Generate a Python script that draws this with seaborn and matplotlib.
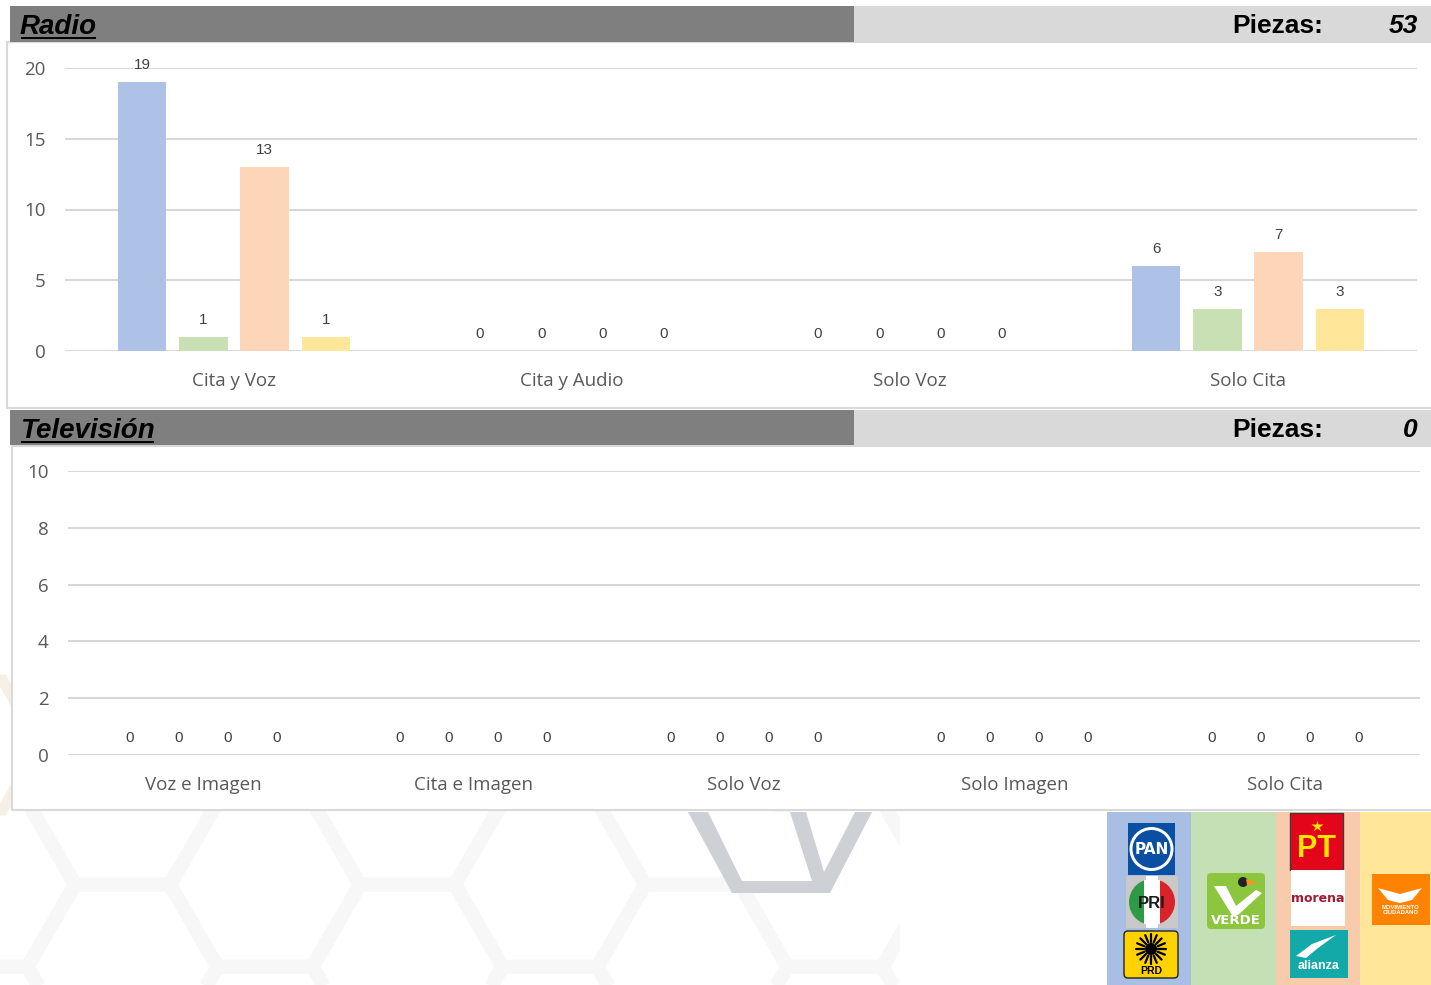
import numpy as np
import pandas as pd
import matplotlib
matplotlib.use("Agg")
import matplotlib.pyplot as plt
import seaborn as sns
from matplotlib.patches import Rectangle, Polygon, Circle, FancyBboxPatch, RegularPolygon

# ---- data -------------------------------------------------------------
series = ["PAN-PRI-PRD", "PVEM", "PT-MORENA-PANAL", "MC"]
series_colors = ["#AEC1E6", "#C8E0B4", "#FDD5B8", "#FFE699"]

radio_categories = ["Cita y Voz", "Cita y Audio", "Solo Voz", "Solo Cita"]
radio_pan_pri_prd = [19, 0, 0, 6]
radio_pvem = [1, 0, 0, 3]
radio_pt_morena_panal = [13, 0, 0, 7]
radio_mc = [1, 0, 0, 3]
radio_ticks = [0, 5, 10, 15, 20]

tv_categories = ["Voz e Imagen", "Cita e Imagen", "Solo Voz", "Solo Imagen", "Solo Cita"]
tv_pan_pri_prd = [0, 0, 0, 0, 0]
tv_pvem = [0, 0, 0, 0, 0]
tv_pt_morena_panal = [0, 0, 0, 0, 0]
tv_mc = [0, 0, 0, 0, 0]
tv_ticks = [0, 2, 4, 6, 8, 10]


def long_frame(categories, columns):
    rows = []
    for name, values in zip(series, columns):
        for cat, v in zip(categories, values):
            rows.append({"categoria": cat, "serie": name, "piezas": v})
    return pd.DataFrame(rows)


radio_df = long_frame(radio_categories,
                      [radio_pan_pri_prd, radio_pvem, radio_pt_morena_panal, radio_mc])
tv_df = long_frame(tv_categories,
                   [tv_pan_pri_prd, tv_pvem, tv_pt_morena_panal, tv_mc])

# ---- figure -----------------------------------------------------------
sns.set_theme(style="white")
plt.rcParams["font.family"] = ["Open Sans", "DejaVu Sans"]

W, H = 1431, 985
fig = plt.figure(figsize=(W / 100, H / 100), dpi=100)
fig.patch.set_facecolor("white")

bg = fig.add_axes([0, 0, 1, 1], zorder=0)
bg.set_xlim(0, W)
bg.set_ylim(H, 0)
bg.axis("off")


def px_rect(x0, y0, x1, y1):
    return [x0 / W, 1 - y1 / H, (x1 - x0) / W, (y1 - y0) / H]


# faint hexagon watermark behind the panels
clip = Rectangle((0, 810), 900, 175, transform=bg.transData, fill=False)
R = 95
for i in range(-1, 9):
    for j in range(-1, 3):
        cx = -20 + i * 1.5 * R
        cy = 720 + j * np.sqrt(3) * R + (i % 2) * np.sqrt(3) * R / 2
        hexa = RegularPolygon((cx, cy), 6, radius=R, orientation=np.pi / 6,
                              fill=False, ec="#F7F7F7", lw=10, zorder=0.2)
        bg.add_patch(hexa)
        hexa.set_clip_path(clip)
bg.add_patch(RegularPolygon((-35, 745), 6, radius=75, orientation=np.pi / 6,
                            fill=False, ec="#F6EFE3", lw=8, zorder=0.2))

# grey hexagon fragment under the television panel
bg.add_patch(Polygon([(688, 812), (732, 893), (830, 893), (872, 812)],
                     closed=True, fc="#CDD0D5", ec="none", zorder=0.3))
bg.add_patch(Polygon([(708, 812), (742, 881), (812, 881), (790, 812)],
                     closed=True, fc="white", ec="none", zorder=0.31))
bg.add_patch(Polygon([(806, 812), (824, 872), (855, 812)],
                     closed=True, fc="white", ec="none", zorder=0.31))

# panels
bg.add_patch(Rectangle((7, 42), 1430, 366, fc="white", ec="#D9D9D9", lw=1.5, zorder=1))
bg.add_patch(Rectangle((12, 446), 1425, 364, fc="white", ec="#D9D9D9", lw=1.5, zorder=1))

# section headers
for top, bottom in [(6, 42), (410, 445)]:
    bg.add_patch(Rectangle((10, top), 844, bottom - top, fc="#7F7F7F", ec="none", zorder=2))
    bg.add_patch(Rectangle((854, top), W - 854, bottom - top, fc="#D9D9D9", ec="none", zorder=2))

head_font = dict(family="Liberation Sans", fontweight="bold", color="black", zorder=3)
t_radio = bg.text(20, 34, "Radio", fontsize=20, style="italic", va="baseline", **head_font)
t_tv = bg.text(20, 438, "Televisión", fontsize=20, style="italic", va="baseline", **head_font)

radio_total = int(sum(radio_pan_pri_prd) + sum(radio_pvem) + sum(radio_pt_morena_panal) + sum(radio_mc))
tv_total = int(sum(tv_pan_pri_prd) + sum(tv_pvem) + sum(tv_pt_morena_panal) + sum(tv_mc))
for base, total in [(33, radio_total), (437, tv_total)]:
    bg.text(1323, base, "Piezas:", fontsize=19, ha="right", va="baseline", **head_font)
    bg.text(1418, base, f"{total}", fontsize=19, style="italic", ha="right", va="baseline", **head_font)


# ---- charts -----------------------------------------------------------
def draw_chart(ax, df, categories, ticks):
    sns.barplot(data=df, x="categoria", y="piezas", hue="serie",
                order=categories, hue_order=series, palette=series_colors,
                width=0.725, gap=0.21, saturation=1, errorbar=None,
                linewidth=0, legend=False, ax=ax)
    ax.patch.set_alpha(0)
    ax.set_ylim(ticks[0], ticks[-1])
    ax.set_yticks(ticks)
    ax.set_xlabel("")
    ax.set_ylabel("")
    ax.yaxis.grid(True, color="#D6D6D6", lw=1.4)
    ax.xaxis.grid(False)
    ax.set_axisbelow(True)
    for s in ax.spines.values():
        s.set_visible(False)
    ax.tick_params(axis="y", length=0, pad=14, labelsize=13.5, labelcolor="#595959")
    ax.tick_params(axis="x", length=0, pad=15, labelsize=13.5, labelcolor="#595959")
    for cont in ax.containers:
        labels = ax.bar_label(cont, fmt="{:.0f}", padding=7, fontsize=11,
                              color="#404040", family="Liberation Sans")
        for lb in labels:
            lb.set_clip_on(False)


ax_r = fig.add_axes(px_rect(65, 68, 1417, 351), zorder=2)
draw_chart(ax_r, radio_df, radio_categories, radio_ticks)

ax_t = fig.add_axes(px_rect(68, 471, 1420, 755), zorder=2)
draw_chart(ax_t, tv_df, tv_categories, tv_ticks)

# ---- party emblems strip ----------------------------------------------
strip = [(1107, 84, "#A9BEE3"), (1191, 85, "#C5E0B4"), (1276, 84, "#F8CBAD"), (1360, 71, "#FFE699")]
for x0, w, c in strip:
    bg.add_patch(Rectangle((x0, 812), w, H - 812, fc=c, ec="none", zorder=1))

lz = 3
# PAN
bg.add_patch(Rectangle((1128, 823), 47, 52, fc="#0B4FA2", ec="none", zorder=lz))
bg.add_patch(Circle((1151.5, 849), 22, fc="white", ec="none", zorder=lz))
bg.add_patch(Circle((1151.5, 849), 19, fc="#0B4FA2", ec="none", zorder=lz))
bg.text(1151.5, 850, "PAN", fontsize=11, fontweight="bold", color="white", ha="center",
        va="center", family="Liberation Sans Narrow", zorder=lz + 1)
# PRI
bg.add_patch(Rectangle((1126, 876), 52, 52, fc="#C9C9C9", ec="none", zorder=lz))
pri_circle = Circle((1152, 902), 23, transform=bg.transData)
for x0, c in [(1126, "#2E9A48"), (1144, "white"), (1160, "#D8232A")]:
    band = Rectangle((x0, 876), 18, 52, fc=c, ec="none", zorder=lz)
    bg.add_patch(band)
    band.set_clip_path(pri_circle)
bg.add_patch(Rectangle((1146, 876), 12, 52, fc="white", ec="none", zorder=lz))
bg.text(1152, 903, "PRI", fontsize=12, fontweight="bold", color="#1A1A1A", ha="center",
        va="center", family="Liberation Sans", zorder=lz + 1)
# PRD
bg.add_patch(FancyBboxPatch((1124, 931), 54, 47, boxstyle="round,pad=0,rounding_size=4",
                            fc="#FFD200", ec="#222222", lw=1, zorder=lz))
for a in np.linspace(0, 2 * np.pi, 16, endpoint=False):
    bg.plot([1151 + 7 * np.cos(a), 1151 + 15 * np.cos(a)],
            [949 + 7 * np.sin(a), 949 + 15 * np.sin(a)], color="black", lw=1.6, zorder=lz + 1)
bg.add_patch(Circle((1151, 949), 6, fc="black", ec="none", zorder=lz + 1))
bg.text(1151, 971, "PRD", fontsize=7.5, fontweight="bold", color="black", ha="center",
        va="center", family="Liberation Sans", zorder=lz + 1)
# VERDE
bg.add_patch(FancyBboxPatch((1207, 873), 58, 56, boxstyle="round,pad=0,rounding_size=4",
                            fc="#8CC63F", ec="none", zorder=lz))
bg.add_patch(Polygon([(1214, 886), (1226, 886), (1236, 906), (1256, 890), (1262, 893),
                      (1238, 915), (1232, 915)], closed=True, fc="white", ec="none", zorder=lz + 1))
bg.add_patch(Circle((1243, 882), 5, fc="#222222", ec="none", zorder=lz + 1))
bg.add_patch(Polygon([(1246, 879), (1258, 883), (1247, 885)], closed=True,
                     fc="#F7931E", ec="none", zorder=lz + 1))
bg.text(1236, 920, "VERDE", fontsize=9.5, fontweight="bold", color="white", ha="center",
        va="center", family="Liberation Sans Narrow", zorder=lz + 1)
# PT
bg.add_patch(Rectangle((1290, 813), 53, 57, fc="#E3061B", ec="#3A3A3A", lw=1, zorder=lz))
bg.text(1316.5, 849, "PT", fontsize=22, fontweight="bold", color="#FFE500", ha="center",
        va="center", family="Liberation Sans", zorder=lz + 1)
bg.plot([1316.5], [826], marker="*", ms=9, color="#FFE500", mec="none", zorder=lz + 1)
# morena
bg.add_patch(Rectangle((1291, 870), 54, 56, fc="white", ec="none", zorder=lz))
bg.text(1318, 899, "morena", fontsize=9, fontweight="bold", color="#9E1B32", ha="center",
        va="center", family="Liberation Sans Narrow", zorder=lz + 1)
# Nueva Alianza
bg.add_patch(Rectangle((1290, 930), 58, 48, fc="#13A9A8", ec="none", zorder=lz))
bg.add_patch(Polygon([(1296, 956), (1312, 944), (1336, 935), (1318, 948), (1306, 958)],
                     closed=True, fc="white", ec="none", zorder=lz + 1))
bg.text(1319, 966, "alianza", fontsize=9, fontweight="bold", color="white", ha="center",
        va="center", family="Liberation Sans", zorder=lz + 1)
# Movimiento Ciudadano
bg.add_patch(Rectangle((1372, 874), 58, 51, fc="#FF8300", ec="none", zorder=lz))
bg.add_patch(Polygon([(1378, 888), (1400, 894), (1422, 888), (1412, 900), (1400, 903),
                      (1388, 900)], closed=True, fc="white", ec="none", zorder=lz + 1))
bg.text(1401, 910, "MOVIMIENTO\nCIUDADANO", fontsize=4.2, fontweight="bold", color="white",
        ha="center", va="center", family="Liberation Sans", linespacing=1.0, zorder=lz + 1)

# ---- underline the section titles -------------------------------------
fig.canvas.draw()
renderer = fig.canvas.get_renderer()
inv = bg.transData.inverted()
for t, y in [(t_radio, 37.5), (t_tv, 441.5)]:
    bb = t.get_window_extent(renderer=renderer)
    (x0, _), (x1, _) = inv.transform([[bb.x0, bb.y0], [bb.x1, bb.y0]])
    bg.plot([x0 + 1, x1 - 1], [y, y], color="black", lw=1.4, zorder=4, solid_capstyle="butt")

fig.savefig("out.png", dpi=100)
